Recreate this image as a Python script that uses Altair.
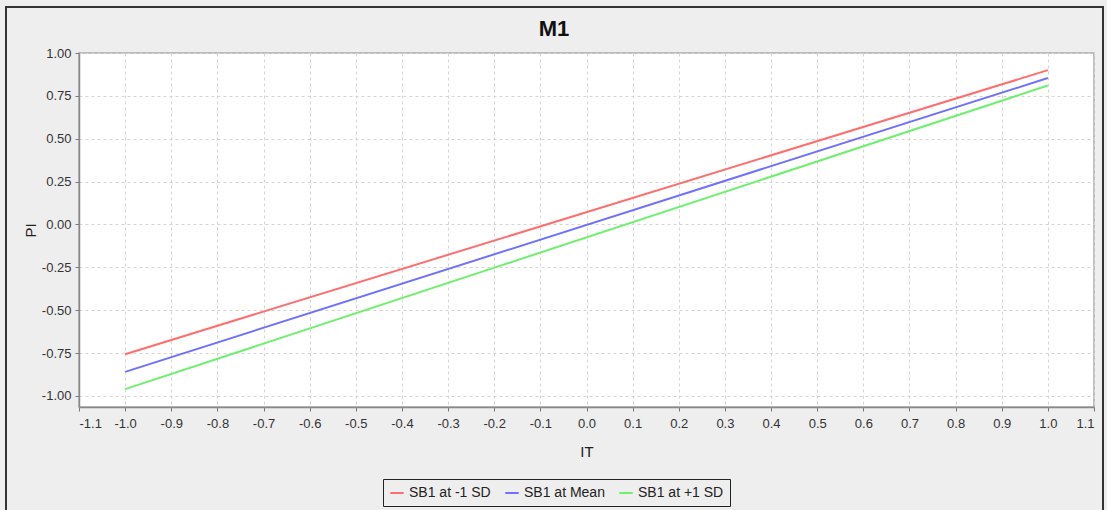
import altair as alt
import pandas as pd

# Simple slopes of PI on IT at three levels of SB1
it_values = [-1.0, 1.0]
series_names = ["SB1 at -1 SD", "SB1 at Mean", "SB1 at +1 SD"]
pi_low = [-0.757, 0.900]
pi_mean = [-0.860, 0.854]
pi_high = [-0.961, 0.810]
series_colors = ["#ff6e6e", "#7070ff", "#6ef06e"]
chart_title = "M1"

x_ticks = [round(-1.1 + 0.1 * i, 1) for i in range(23)]
y_ticks = [-1.0, -0.75, -0.5, -0.25, 0.0, 0.25, 0.5, 0.75, 1.0]

rows = []
for name, vals in zip(series_names, [pi_low, pi_mean, pi_high]):
    for x, y in zip(it_values, vals):
        rows.append({"IT": x, "PI": y, "series": name})
df = pd.DataFrame(rows)

PLOT_W, PLOT_H = 1015, 354
FONT = "Liberation Sans"

# Tick labels with a plain hyphen for negatives
x_label_expr = "(datum.value < -0.00001 ? '-' : '') + format(abs(datum.value), '.1f')"
y_label_expr = "(datum.value < -0.00001 ? '-' : '') + format(abs(datum.value), '.2f')"

lines = alt.Chart(df).mark_line(strokeWidth=2).encode(
    x=alt.X("IT:Q", scale=alt.Scale(domain=[-1.1, 1.1], nice=False, zero=False),
            axis=alt.Axis(values=x_ticks, labelExpr=x_label_expr, title="IT",
                          titlePadding=14, labelPadding=6)),
    y=alt.Y("PI:Q", scale=alt.Scale(domain=[-1.065, 1.0], nice=False, zero=False),
            axis=alt.Axis(values=y_ticks, labelExpr=y_label_expr, title="PI",
                          titlePadding=3, labelPadding=4)),
    color=alt.Color("series:N",
                    scale=alt.Scale(domain=series_names, range=series_colors),
                    legend=alt.Legend(title=None, orient="none", direction="horizontal",
                                      legendX=304, legendY=426,
                                      strokeColor="#222222", padding=6,
                                      fillColor="#eeeeee",
                                      symbolType="stroke", symbolStrokeWidth=2,
                                      symbolSize=180, columnPadding=10,
                                      labelFontSize=14, labelFont=FONT,
                                      labelColor="#222222")),
    detail="series:N",
)

# Outer frame around the whole figure
frame = alt.Chart(pd.DataFrame({"k": [0]})).mark_rect(
    fill=None, stroke="#333333", strokeWidth=2
).encode(
    x=alt.value(6 - 79), x2=alt.value(1103 - 79),
    y=alt.value(7 - 53), y2=alt.value(530 - 53),
)

# Chart heading, centred on the whole figure
heading = alt.Chart(pd.DataFrame({"t": [chart_title]})).mark_text(
    font=FONT, fontSize=22, fontWeight="bold", color="#111111",
    align="center", baseline="middle",
).encode(
    text="t:N", x=alt.value(554 - 79), y=alt.value(29 - 53),
)

chart = alt.layer(frame, lines, heading).properties(
    width=PLOT_W, height=PLOT_H,
    autosize=alt.AutoSizeParams(type="none"),
    padding={"left": 79, "top": 53, "right": 13, "bottom": 103},
).configure(
    background="#eeeeee",
).configure_view(
    fill="white", stroke="#aaaaaa", strokeWidth=1.5,
).configure_axis(
    labelFont=FONT, titleFont=FONT, labelFontSize=13, titleFontSize=15,
    titleFontWeight="normal", labelColor="#333333", titleColor="#222222",
    gridColor="#d4d4d4", gridDash=[3, 3], gridWidth=1,
    domainColor="#888888", domainWidth=1.5, tickColor="#777777", tickSize=4,
)

chart.save("out.html", embed_options={"renderer": "svg", "actions": False})
